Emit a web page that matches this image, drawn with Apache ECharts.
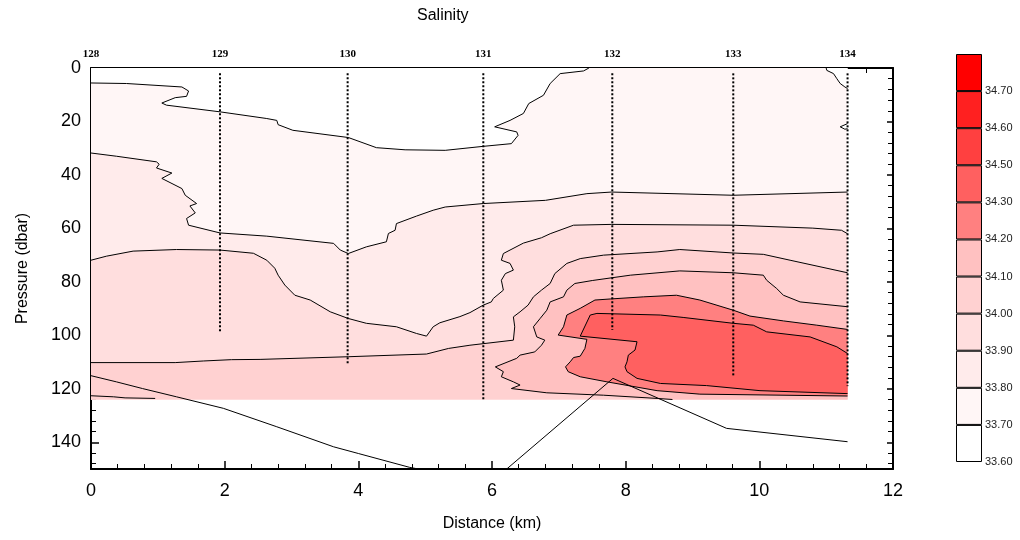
<!DOCTYPE html>
<html>
<head>
<meta charset="utf-8">
<script src="https://cdn.jsdelivr.net/npm/echarts@6/dist/echarts.min.js"></script>
<style>html,body{margin:0;background:#fff}#main{width:1020px;height:540px}</style>
</head>
<body>
<div id="main"></div>
<script>
var myChart = echarts.init(document.getElementById('main'));

// salinity levels (colour bar boundaries) and band colours, lowest first
var levels = ['33.60', '33.70', '33.80', '33.90', '34.00', '34.10', '34.20', '34.30', '34.50', '34.60', '34.70'];
var bandColors = ['#FFFFFF', '#FFF6F6', '#FFEBEB', '#FFDEDE', '#FFD1D1', '#FFC1C1', '#FF8080', '#FF6060', '#FF4040', '#FF2020', '#FF0000'];

// stations: name, distance (km), cast depth (dbar)
var stationNames = ['128', '129', '130', '131', '132', '133', '134'];
var stationDist = [0, 1.93, 3.84, 5.87, 7.8, 9.61, 11.32];
var stationDepth = [0, 99, 111, 124, 98, 115.5, 119];

// contour lines, [distance km, pressure dbar]
var line3370 = [[0,5.6],[0.53,5.8],[1.36,7.1],[1.46,8.6],[1.43,10.6],[1.26,11.1],[1.06,13.1],[1.13,13.9],[1.93,16.4],[2.63,18.9],[2.78,19.6],[2.8,21.2],[3.02,23.3],[3.85,26],[4.27,29.8],[4.7,30.6],[5.3,30.8],[5.87,29.3],[6.29,28.3],[6.39,25.2],[6.37,23.9],[6.04,22],[6.27,19.6],[6.47,17],[6.55,13.3],[6.77,10.2],[6.87,5.8],[7.02,2.1],[7.37,1.1],[7.45,0]];
var line3370b = [[11.0,0],[11.01,0.9],[11.11,2.1],[11.16,4],[11.21,5.8],[11.28,7.1],[11.32,7.7]];
var line3370c = [[11.32,20.8],[11.21,22],[11.28,22.9],[11.32,22.7]];
var line3380 = [[0,31.8],[0.38,33],[0.98,35.1],[1.02,36],[0.98,37.4],[1.21,39.3],[1.06,41.3],[1.36,45.1],[1.41,47.6],[1.58,50.7],[1.48,51.6],[1.56,54.2],[1.43,56.3],[1.46,58.8],[1.93,61.7],[2.63,62.9],[3.63,65.6],[3.73,68.1],[3.85,69.4],[4.12,66.9],[4.42,65],[4.45,61.9],[4.55,60.7],[4.57,58.2],[4.87,55.4],[5.12,53.2],[5.3,52],[5.87,50.7],[6.8,49.5],[7.42,47],[7.79,46.4],[9.61,47.6],[11.32,46.4]];
var line3390 = [[0,71.9],[0.23,70.4],[0.63,68.5],[1.28,67.9],[1.93,68.1],[2.43,69.3],[2.63,71.9],[2.75,74.9],[2.8,77.5],[2.9,81.2],[3.05,85],[3.28,86.8],[3.58,91.2],[3.85,93.7],[4.12,95.5],[4.57,96.8],[4.87,99.3],[5.02,100.3],[5.12,96.8],[5.22,95.3],[5.52,93],[5.67,91.5],[5.87,88.7],[5.99,87.5],[6.02,86.2],[6.17,83.1],[6.14,79.4],[6.2,76.9],[6.32,75.6],[6.27,73.1],[6.14,71.9],[6.17,69.4],[6.47,65.5],[6.74,63.5],[6.87,62],[7.22,58.8],[7.79,58.5],[9.61,58.8],[10.8,59.9],[11.23,60.7],[11.32,62]];
var line3400 = [[0,110.2],[1.26,110.2],[1.68,109.6],[2.1,109.1],[2.53,109],[3.85,108],[5.02,107],[5.35,104.9],[5.67,103.7],[6.32,101.8],[6.34,96.8],[6.32,93.1],[6.42,91.2],[6.54,88.7],[6.62,85.6],[6.74,83.1],[6.87,80.6],[6.94,76.9],[7.12,73.1],[7.32,71.3],[7.67,70],[8.47,68.8],[8.81,67.9],[9.61,69.2],[10.06,69.7],[10.46,71.9],[11.32,76.6]];
var line3410 = [[11.32,89.3],[10.61,87.5],[10.36,85],[10.26,82.5],[10.11,79.4],[10.06,77.5],[9.61,76.6],[8.81,75.9],[8.07,77.5],[7.5,79.5],[7.24,80.6],[7.12,83.1],[7.07,85.6],[6.87,87.5],[6.82,90.6],[6.72,93.7],[6.62,96.8],[6.67,100.6],[6.79,101.8],[6.74,103.7],[6.64,106.2],[6.42,107.4],[6.37,108.6],[6.05,111.8],[6.17,113.6],[6.14,115.5],[6.32,117.4],[6.42,118.6],[6.29,119.9],[6.82,121.5],[7.67,122.4],[8.47,123.6],[8.7,124]];
var line3410b = [[0,122.6],[0.34,123],[0.51,123.4],[0.96,123.6]];
var line3420 = [[11.32,97.8],[10.86,96.2],[10.36,94.6],[9.86,92.8],[9.61,90.6],[9.11,86.8],[8.76,85],[8.27,85.6],[7.77,86.4],[7.54,86.8],[7.32,89.9],[7.12,92.4],[7.07,96.8],[6.99,99.9],[7.42,101.5],[7.39,104.9],[7.32,107.8],[7.22,108.3],[7.17,109.9],[7.1,111.8],[7.14,113.6],[7.32,115.5],[7.72,117.4],[8.47,120.7],[9.11,122],[11.32,122.7]];
var line3430 = [[11.32,106.8],[11.16,104.3],[10.76,100.6],[10.11,98.7],[9.91,96.2],[9.61,95.5],[8.86,93.3],[8.52,92.4],[7.57,91.8],[7.47,92.4],[7.32,100.3],[8.17,102.4],[8.14,105.5],[8.04,107.4],[8.02,109.9],[7.99,111.8],[8.02,113.6],[8.17,116.1],[8.52,118],[9.21,118.8],[10.01,120.7],[11.32,121.8]];

// sloping reference lines below the section
var floorLeft = [[0,115.1],[0.38,117.4],[0.77,119.9],[1.28,123],[1.98,127.3],[2.78,134.2],[3.63,141.7],[4.0,144.2],[4.77,149.4],[4.9,150]];
var floorRight = [[6.22,150],[7.81,116.1],[9.51,134.8],[11.32,139.8]];

// extent of the gridded section
var sectionEnd = 11.32;
var sectionBottom = 124;

// filled areas, painted in order, with their band index
var fillShapes = [
  [[0,0],[sectionEnd,0],[sectionEnd,sectionBottom],[0,sectionBottom]],
  [[0,0]].concat(line3370),
  line3370b.concat([[sectionEnd,0]]),
  line3370c,
  line3380.concat([[sectionEnd,sectionBottom],[0,sectionBottom]]),
  line3390.concat([[sectionEnd,sectionBottom],[0,sectionBottom]]),
  line3400.concat([[sectionEnd,sectionBottom],[0,sectionBottom]]),
  line3410.concat([[sectionEnd,sectionBottom]]),
  line3420,
  line3430
];
var fillBand = [1, 0, 0, 0, 2, 3, 4, 5, 6, 7];

var contourLines = [line3370, line3370b, line3370c, line3380, line3390, line3400, line3410, line3410b, line3420, line3430, floorLeft, floorRight];

var axisFont = 'Liberation Sans';
var series = [];

series.push({
  type: 'custom',
  coordinateSystem: 'cartesian2d',
  silent: true,
  z: 1,
  data: fillShapes.map(function (s) { return s[0]; }),
  renderItem: function (params, api) {
    var pts = fillShapes[params.dataIndex].map(function (p) { return api.coord(p); });
    return {
      type: 'polygon',
      shape: { points: pts },
      style: { fill: bandColors[fillBand[params.dataIndex]], stroke: null }
    };
  }
});

contourLines.forEach(function (l) {
  series.push({
    type: 'line', data: l, symbol: 'none', silent: true, z: 3,
    lineStyle: { color: '#000', width: 1 }
  });
});

stationDist.forEach(function (d, i) {
  if (!stationDepth[i]) return;
  series.push({
    type: 'line', data: [[d, 2], [d, stationDepth[i]]], symbol: 'none', silent: true, z: 4,
    lineStyle: { color: '#000', width: 2, type: [2, 2] }
  });
});

// colour bar
bandColors.forEach(function (c) {
  series.push({
    type: 'bar', xAxisIndex: 2, yAxisIndex: 2, stack: 'cb', data: [1], barWidth: '100%', silent: true,
    itemStyle: { color: c, borderColor: '#000', borderWidth: 1 }
  });
});

var tickStyle = { color: '#000', width: 1.5 };
var minorStyle = { color: '#000', width: 1 };

option = {
  animation: false,
  backgroundColor: '#fff',
  title: {
    text: 'Salinity', left: 412, top: 3,
    textStyle: { fontFamily: axisFont, fontSize: 16, fontWeight: 'normal', color: '#000' }
  },
  grid: [
    { left: 91, top: 68, width: 802, height: 401 },
    { left: 956, top: 54, width: 26, height: 408 }
  ],
  xAxis: [
    {
      type: 'value', gridIndex: 0, min: 0, max: 12, interval: 2, position: 'bottom',
      name: 'Distance (km)', nameLocation: 'middle', nameGap: 47,
      nameTextStyle: { fontFamily: axisFont, fontSize: 16, color: '#000' },
      axisLine: { onZero: false, lineStyle: { color: '#000', width: 2 } },
      axisTick: { inside: true, length: 8, lineStyle: tickStyle },
      minorTick: { show: true, splitNumber: 5, length: 5, lineStyle: minorStyle },
      axisLabel: { fontFamily: axisFont, fontSize: 18, color: '#000', margin: 13 },
      splitLine: { show: false }
    },
    {
      type: 'value', gridIndex: 0, min: 0, max: 12, interval: 2, position: 'top',
      axisLine: { onZero: false, lineStyle: { color: '#000', width: 2 } },
      axisTick: { inside: true, length: 8, lineStyle: tickStyle },
      minorTick: { show: true, splitNumber: 5, length: 5, lineStyle: minorStyle },
      axisLabel: {
        customValues: stationDist,
        fontFamily: 'Liberation Serif', fontWeight: 'bold', fontSize: 11, color: '#000', margin: 8,
        formatter: function (v) {
          for (var i = 0; i < stationDist.length; i++) {
            if (Math.abs(stationDist[i] - v) < 1e-6) return stationNames[i];
          }
          return '';
        }
      },
      splitLine: { show: false }
    },
    {
      type: 'category', gridIndex: 1, data: [''],
      axisLine: { show: false }, axisTick: { show: false }, axisLabel: { show: false }
    }
  ],
  yAxis: [
    {
      type: 'value', gridIndex: 0, min: 0, max: 150, interval: 20, inverse: true, position: 'left',
      name: 'Pressure (dbar)', nameLocation: 'middle', nameGap: 60, nameRotate: 90,
      nameTextStyle: { fontFamily: axisFont, fontSize: 16, color: '#000' },
      axisLine: { onZero: false, lineStyle: { color: '#000', width: 2 } },
      axisTick: { inside: true, length: 8, lineStyle: tickStyle },
      minorTick: { show: true, splitNumber: 5, length: 5, lineStyle: minorStyle },
      axisLabel: { fontFamily: axisFont, fontSize: 18, color: '#000', margin: 10, showMaxLabel: false },
      splitLine: { show: false }
    },
    {
      type: 'value', gridIndex: 0, min: 0, max: 150, interval: 20, inverse: true, position: 'right',
      axisLine: { onZero: false, lineStyle: { color: '#000', width: 2 } },
      axisTick: { inside: true, length: 6, lineStyle: tickStyle },
      minorTick: { show: true, splitNumber: 5, length: 5, lineStyle: minorStyle },
      axisLabel: { show: false },
      splitLine: { show: false }
    },
    {
      type: 'value', gridIndex: 1, min: 0, max: 11, interval: 1, position: 'right',
      axisLine: { show: false }, axisTick: { show: false }, splitLine: { show: false },
      axisLabel: {
        fontFamily: axisFont, fontSize: 11, color: '#222', margin: 3,
        formatter: function (v) { return levels[v] || ''; }
      }
    }
  ],
  series: series
};

myChart.setOption(option);
</script>
</body>
</html>
